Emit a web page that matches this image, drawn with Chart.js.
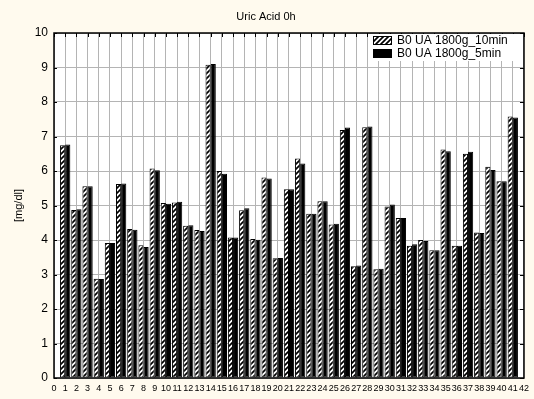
<!DOCTYPE html>
<html>
<head>
<meta charset="utf-8">
<script src="https://cdn.jsdelivr.net/npm/chart.js@4.4.1/dist/chart.umd.min.js"></script>
<style>
    body { margin: 0; background: #fffaee; }
    canvas { display: block; }
</style>
</head>
<body>
<canvas id="myChart" width="534" height="399"></canvas>
<script>
//////////////////////////////////////
//              Data                //
//////////////////////////////////////

var chartTitle = "Uric Acid 0h";
var yLabel = "[mg/dl]";
var seriesNames = ["B0 UA 1800g_10min", "B0 UA 1800g_5min"];
var samples = [1, 2, 3, 4, 5, 6, 7, 8, 9, 10, 11, 12, 13, 14, 15, 16, 17, 18, 19, 20,
               21, 22, 23, 24, 25, 26, 27, 28, 29, 30, 31, 32, 33, 34, 35, 36, 37, 38, 39, 40, 41];
var ua10min = [6.75, 4.87, 5.56, 2.88, 3.91, 5.62, 4.32, 3.85, 6.07, 5.07,
               5.09, 4.41, 4.29, 9.08, 6.00, 4.07, 4.86, 4.03, 5.81, 3.47,
               5.47, 6.36, 4.76, 5.12, 4.45, 7.19, 3.24, 7.27, 3.15, 4.97,
               4.64, 3.83, 4.00, 3.70, 6.62, 3.83, 6.50, 4.22, 6.12, 5.70, 7.58];
var ua5min  = [6.77, 4.89, 5.56, 2.87, 3.91, 5.64, 4.30, 3.80, 6.02, 5.05,
               5.11, 4.43, 4.26, 9.10, 5.92, 4.07, 4.92, 4.01, 5.78, 3.48,
               5.47, 6.22, 4.76, 5.12, 4.47, 7.26, 3.26, 7.29, 3.17, 5.03,
               4.64, 3.88, 3.97, 3.70, 6.57, 3.83, 6.56, 4.20, 6.03, 5.70, 7.55];
var xMin = 0, xMax = 42;
var yMin = 0, yMax = 10;

//////////////////////////////////////
//             Helpers              //
//////////////////////////////////////

var ctx = document.getElementById('myChart').getContext('2d');

// white fill with bold "/" stripes
function makeHatch() {
    var n = 5;
    var c = document.createElement('canvas');
    c.width = n; c.height = n;
    var g = c.getContext('2d');
    g.fillStyle = '#fff';
    g.fillRect(0, 0, n, n);
    g.strokeStyle = '#000';
    g.lineWidth = 1.7;
    g.beginPath();
    g.moveTo(-1, n + 1); g.lineTo(n + 1, -1);
    g.moveTo(-1, 1); g.lineTo(1, -1);
    g.moveTo(n - 1, n + 1); g.lineTo(n + 1, n - 1);
    g.stroke();
    return ctx.createPattern(c, 'repeat');
}
var hatch = makeHatch();

function toPoints(values) {
    return samples.map(function(s, i) { return { x: s, y: values[i] }; });
}

//////////////////////////////////////
//          Decorations             //
//////////////////////////////////////

var decor = {
    id: 'decor',
    beforeDraw: function(chart) {
        var c = chart.ctx, a = chart.chartArea;
        c.save();
        c.fillStyle = '#fffaee';
        c.fillRect(0, 0, chart.width, chart.height);
        c.fillStyle = '#fff';
        c.fillRect(a.left, a.top, a.right - a.left, a.bottom - a.top);
        c.restore();
    },
    afterDraw: function(chart) {
        var c = chart.ctx, a = chart.chartArea;
        var xs = chart.scales.x, ys = chart.scales.y;
        c.save();

        // small inner ticks on the borders
        c.strokeStyle = '#000';
        c.lineWidth = 1;
        c.beginPath();
        for (var i = xMin; i <= xMax; i++) {
            var px = Math.round(xs.getPixelForValue(i)) + 0.5;
            c.moveTo(px, a.top); c.lineTo(px, a.top + 4);
        }
        for (var j = yMin; j <= yMax; j++) {
            var py = Math.round(ys.getPixelForValue(j)) + 0.5;
            c.moveTo(a.right, py); c.lineTo(a.right - 4, py);
            c.moveTo(a.left, py); c.lineTo(a.left + 3, py);
        }
        c.stroke();

        // frame
        c.lineWidth = 1.5;
        c.strokeRect(a.left, a.top, a.right - a.left, a.bottom - a.top);

        // title
        c.fillStyle = '#000';
        c.font = '11px "Liberation Sans", Arial, sans-serif';
        c.textAlign = 'center';
        c.textBaseline = 'middle';
        c.fillText(chartTitle, 266, 17);

        // y label
        c.save();
        c.translate(19, (a.top + a.bottom) / 2);
        c.rotate(-Math.PI / 2);
        c.font = '11px "Liberation Sans", Arial, sans-serif';
        c.fillText(yLabel, 0, 0);
        c.restore();

        // legend
        c.fillStyle = '#fff';
        c.fillRect(370, 34, a.right - 371, 27);
        var fills = [hatch, '#000'];
        c.font = '12px "Liberation Sans", Arial, sans-serif';
        c.textAlign = 'left';
        for (var k = 0; k < seriesNames.length; k++) {
            var by = 36 + k * 13;
            c.fillStyle = fills[k];
            c.fillRect(373, by, 19, 9);
            c.lineWidth = 1;
            c.strokeStyle = '#000';
            c.strokeRect(373.5, by + 0.5, 18, 8);
            c.fillStyle = '#000';
            c.fillText(seriesNames[k], 397, by + 5);
        }
        c.restore();
    }
};

//////////////////////////////////////
//             Chart                //
//////////////////////////////////////

var chart = new Chart(ctx, {
    type: 'bar',
    data: {
        datasets: [
            {
                label: seriesNames[0],
                data: toPoints(ua10min),
                backgroundColor: hatch,
                borderColor: '#000',
                borderWidth: 1,
                borderSkipped: false
            },
            {
                label: seriesNames[1],
                data: toPoints(ua5min),
                backgroundColor: '#000',
                borderColor: '#000',
                borderWidth: 1,
                borderSkipped: false
            }
        ]
    },
    options: {
        responsive: false,
        animation: false,
        layout: { padding: { top: 33, right: 6, left: 0, bottom: 0 } },
        datasets: { bar: { categoryPercentage: 0.92, barPercentage: 1.0 } },
        plugins: {
            legend: { display: false },
            title: { display: false },
            tooltip: { enabled: false }
        },
        scales: {
            x: {
                type: 'linear',
                min: xMin,
                max: xMax,
                offset: false,
                grid: { offset: false, color: '#b4b4b4', borderDash: [1, 2], drawTicks: false },
                border: { display: false },
                ticks: {
                    stepSize: 1,
                    autoSkip: false,
                    maxRotation: 0,
                    padding: 5,
                    color: '#000',
                    font: { family: '"Liberation Sans", Arial, sans-serif', size: 9 }
                },
                afterFit: function(s) { s.height = 21; }
            },
            y: {
                min: yMin,
                max: yMax,
                grid: { color: '#b4b4b4', borderDash: [1, 2], drawTicks: false },
                border: { display: false },
                ticks: {
                    stepSize: 1,
                    padding: 6,
                    color: '#000',
                    font: { family: '"Liberation Sans", Arial, sans-serif', size: 12 }
                },
                afterFit: function(s) { s.width = 54; }
            }
        }
    },
    plugins: [decor]
});
</script>
</body>
</html>
